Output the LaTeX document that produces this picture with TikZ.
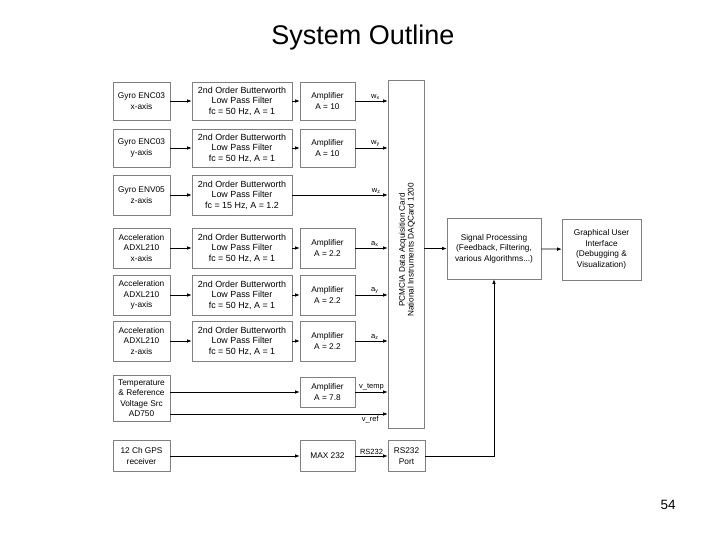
\documentclass[tikz,border=0pt]{standalone}
\usepackage{fontspec}
\setmainfont{Liberation Sans}
\usetikzlibrary{arrows.meta}
\begin{document}
\begin{tikzpicture}[x=1pt,y=-1pt,
  box/.style={draw=black!50, line width=0.6pt, rectangle, align=center, inner sep=0pt,
    font=\fontsize{8.3}{10.5}\selectfont},
  sensor/.style={box, minimum width=57pt},
  filt/.style={box, minimum width=100pt, font=\fontsize{8.9}{10.5}\selectfont},
  amp/.style={box, minimum width=55pt},
  arr/.style={draw=black, line width=0.7pt, -{Latex[length=4.5pt,width=3.6pt]}},
  lbl/.style={font=\fontsize{7.5}{8}\selectfont, inner sep=1.5pt}]
\useasboundingbox (0,0) rectangle (720,540);
\node[font=\fontsize{27}{31}\selectfont] (title) at (363,38) {System Outline};
\node[font=\fontsize{13.5}{15}\selectfont] (page) at (668,505) {54};

% row 1
\node[sensor, minimum height=38pt] (s1) at (141.5,101) {Gyro ENC03\\x-axis};
\node[filt, minimum height=38pt] (f1) at (242,101) {2nd Order Butterworth\\Low Pass Filter\\fc = 50 Hz, A = 1};
\node[amp, minimum height=38pt] (a1) at (327.5,101) {Amplifier\\A = 10};
% row 2
\node[sensor, minimum height=38pt] (s2) at (141.5,148) {Gyro ENC03\\y-axis};
\node[filt, minimum height=38pt] (f2) at (242,148) {2nd Order Butterworth\\Low Pass Filter\\fc = 50 Hz, A = 1};
\node[amp, minimum height=38pt] (a2) at (327.5,148) {Amplifier\\A = 10};
% row 3
\node[sensor, minimum height=40pt] (s3) at (141.5,195) {Gyro ENV05\\z-axis};
\node[filt, minimum height=40pt] (f3) at (242,195) {2nd Order Butterworth\\Low Pass Filter\\fc = 15 Hz, A = 1.2};
% row 4
\node[sensor, minimum height=40pt] (s4) at (141.5,248) {Acceleration\\ADXL210\\x-axis};
\node[filt, minimum height=40pt] (f4) at (242,248) {2nd Order Butterworth\\Low Pass Filter\\fc = 50 Hz, A = 1};
\node[amp, minimum height=40pt] (a4) at (327.5,248) {Amplifier\\A = 2.2};
% row 5
\node[sensor, minimum height=40pt] (s5) at (141.5,295) {Acceleration\\ADXL210\\y-axis};
\node[filt, minimum height=40pt] (f5) at (242,295) {2nd Order Butterworth\\Low Pass Filter\\fc = 50 Hz, A = 1};
\node[amp, minimum height=40pt] (a5) at (327.5,295) {Amplifier\\A = 2.2};
% row 6
\node[sensor, minimum height=40pt] (s6) at (141.5,341) {Acceleration\\ADXL210\\z-axis};
\node[filt, minimum height=40pt] (f6) at (242,341) {2nd Order Butterworth\\Low Pass Filter\\fc = 50 Hz, A = 1};
\node[amp, minimum height=40pt] (a6) at (327.5,341) {Amplifier\\A = 2.2};
% row 7
\node[sensor, minimum height=46pt] (s7) at (141.5,398) {Temperature\\\& Reference\\Voltage Src\\AD750};
\node[amp, minimum height=30pt] (a7) at (327.5,392) {Amplifier\\A = 7.8};
% row 8
\node[sensor, minimum height=31pt] (s8) at (141.5,456) {12 Ch GPS\\receiver};
\node[amp, minimum height=31pt] (m8) at (327.5,456) {MAX 232};
\node[box, minimum width=37pt, minimum height=31pt] (port) at (406.5,456) {RS232\\Port};

% DAQ card
\node[box, minimum width=36pt, minimum height=348pt] (daq) at (406,254) {};
\node[rotate=90, align=center, inner sep=0pt, font=\fontsize{8.2}{8.6}\selectfont] (daqtext) at (407,250)
  {PCMCIA Data Acquisition Card\\National Instruments DAQCard 1200};

% processing
\node[box, minimum width=94pt, minimum height=61pt] (sp) at (494,248.5)
  {Signal Processing\\(Feedback, Filtering,\\various Algorithms...)};
\node[box, minimum width=79pt, minimum height=61pt] (gui) at (601.5,249.5)
  {Graphical User\\Interface\\(Debugging \&\\Visualization)};

% connectors
\foreach \r in {1,2,4,5,6}{
  \draw[arr] (s\r) -- (f\r);
  \draw[arr] (f\r) -- (a\r);
}
\draw[arr] (s3) -- (f3);
\draw[arr] (a1.east) -- (a1.east -| daq.west) node[lbl, pos=0.62, above] {w\textsubscript{x}};
\draw[arr] (a2.east) -- (a2.east -| daq.west) node[lbl, pos=0.62, above] {w\textsubscript{y}};
\draw[arr] (f3.east) -- (f3.east -| daq.west) node[lbl, pos=0.88, above] {w\textsubscript{z}};
\draw[arr] (a4.east) -- (a4.east -| daq.west) node[lbl, pos=0.6, above] {a\textsubscript{x}};
\draw[arr] (a5.east) -- (a5.east -| daq.west) node[lbl, pos=0.6, above] {a\textsubscript{y}};
\draw[arr] (a6.east) -- (a6.east -| daq.west) node[lbl, pos=0.6, above] {a\textsubscript{z}};
\draw[arr] (a7.west -| s7.east) -- (a7.west);
\draw[arr] (a7.east) -- (a7.east -| daq.west) node[lbl, pos=0.5, above] {v\_temp};
\draw[arr] ([yshift=-16pt]s7.east) -- ([yshift=-16pt]s7.east -| daq.west) node[lbl, pos=0.92, below] {v\_ref};
\draw[arr] (s8) -- (m8);
\draw[arr] (m8) -- (port) node[lbl, pos=0.5, above] {RS232};
\draw[arr] (daq.east |- sp.west) -- (sp.west);
\draw[arr] (sp) -- (gui);
\draw[arr] (port.east) -| (sp.south);
\end{tikzpicture}
\end{document}
